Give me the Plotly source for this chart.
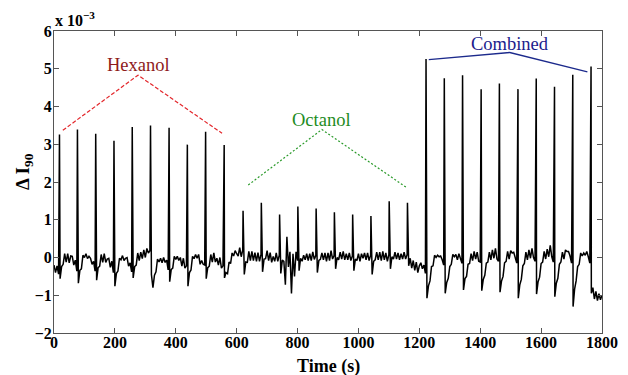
import numpy as np
import plotly.graph_objects as go

# ---- data (values in units of 1e-3) ----
grid_step = 5  # baseline samples every 5 s

hexanol_baseline = [  # t = 0 .. 595
    -0.20, -0.40, -0.22, -0.44, -0.56, -0.24, -0.18, 0.10, -0.12, 0.10, -0.14, 0.04,
    0.03, -0.20, -0.07, -0.36, -0.68, -0.34, -0.30, 0.06, 0.00, 0.10, -0.03, 0.03,
    -0.02, -0.18, -0.10, -0.36, -0.60, -0.27, -0.23, 0.08, -0.13, 0.10, -0.13, -0.04,
    -0.02, -0.26, -0.10, -0.40, -0.76, -0.42, -0.36, -0.02, -0.06, 0.05, -0.08, -0.02,
    0.00, -0.23, -0.14, -0.38, -0.54, -0.24, -0.20, 0.12, -0.08, 0.14, -0.03, 0.20,
    0.00, 0.24, 0.12, 0.18, -0.45, -0.80, -0.47, -0.38, -0.04, -0.12, -0.02, -0.14,
    0.00, -0.13, -0.07, -0.33, -0.64, -0.32, -0.28, 0.03, -0.05, 0.03, -0.08, 0.00,
    -0.23, -0.02, -0.28, -0.22, -0.76, -0.40, -0.33, 0.03, -0.03, 0.08, -0.02, 0.08,
    -0.18, -0.08, -0.18, -0.20, -0.56, -0.27, -0.23, 0.08, -0.12, 0.12, -0.12, -0.02,
    -0.20, 0.00, -0.28, -0.22, -0.54, -0.40, -0.43, -0.12, -0.16, 0.12, 0.04, 0.18,
]
octanol_baseline = [  # t = 600 .. 1195
    0.10, 0.04, 0.26, 0.02, 0.20, -0.45, -0.12, -0.13, 0.16, -0.08, 0.16, -0.08,
    0.13, -0.10, 0.13, -0.10, 0.08, -0.38, -0.04, -0.03, 0.18, -0.08, 0.13, -0.13,
    0.03, -0.10, 0.12, -0.10, 0.06, -0.42, -0.07, -0.10, -0.72, 0.55, -0.25, 0.15,
    -0.95, 0.10, -0.50, 0.15, -0.08, -0.35, -0.02, -0.10, 0.06, -0.06, 0.10, -0.08,
    0.10, -0.08, 0.15, -0.05, 0.06, -0.40, -0.08, -0.05, 0.12, -0.06, 0.12, -0.10,
    0.12, -0.08, 0.18, -0.04, 0.05, -0.30, 0.00, -0.06, 0.14, -0.04, 0.16, -0.06,
    0.10, -0.06, 0.12, -0.08, 0.04, -0.35, -0.04, -0.08, 0.10, -0.10, 0.10, -0.02,
    0.12, -0.06, 0.12, -0.08, 0.06, -0.45, -0.10, -0.06, 0.14, -0.06, 0.14, -0.08,
    0.16, -0.06, 0.12, -0.10, 0.08, -0.30, 0.02, -0.04, 0.14, -0.04, 0.12, -0.06,
    0.10, -0.04, 0.14, -0.04, 0.08, -0.22, -0.02, -0.28, -0.08, -0.34, -0.12, -0.40,
]
combined_baseline = [  # t = 1200 .. 1800
    -0.22, -0.14, -0.30, -0.20, -0.42, -1.08, -0.75, -0.62, -0.24, -0.22, 0.06, 0.00,
    0.06, 0.02, 0.04, -0.06, -0.20, -0.95, -0.66, -0.55, -0.24, -0.18, 0.08, 0.02,
    0.08, -0.06, 0.10, -0.06, -0.15, -0.86, -0.56, -0.50, -0.18, -0.16, 0.10, -0.08,
    0.16, -0.04, 0.14, -0.10, -0.12, -0.88, -0.58, -0.47, -0.15, -0.12, 0.14, -0.06,
    0.20, -0.02, 0.24, -0.04, -0.10, -0.92, -0.62, -0.50, -0.14, -0.10, 0.16, -0.04,
    0.18, 0.12, 0.14, 0.02, -0.15, -1.08, -0.72, -0.58, -0.22, -0.16, 0.14, -0.06,
    0.20, -0.02, 0.24, 0.00, -0.10, -0.97, -0.64, -0.52, -0.16, -0.12, 0.16, -0.04,
    0.22, 0.02, 0.32, 0.02, -0.12, -1.04, -0.68, -0.55, -0.18, -0.12, 0.14, -0.04,
    0.20, 0.16, 0.16, 0.04, -0.15, -1.30, -0.84, -0.62, -0.24, -0.18, 0.12, 0.04,
    0.12, 0.06, 0.16, 0.02, -0.15, -0.95, -0.80, -1.10, -0.90, -1.14, -0.96, -1.12, -1.00,
]

hexanol_spike_times = [18, 77, 137, 197, 257, 317, 378, 438, 498, 559]
hexanol_spike_peaks = [3.26, 3.39, 3.28, 3.09, 3.46, 3.50, 3.44, 2.99, 3.33, 2.98]
octanol_spike_times = [621, 681, 741, 801, 861, 921, 981, 1041, 1101, 1161]
octanol_spike_peaks = [1.24, 1.45, 1.14, 1.35, 1.30, 1.20, 1.14, 1.10, 1.49, 1.45]
combined_spike_times = [1222, 1282, 1342, 1403, 1463, 1524, 1584, 1644, 1704, 1764]
combined_spike_peaks = [5.26, 4.75, 4.83, 4.46, 4.61, 4.46, 4.74, 4.52, 4.84, 5.06]

# annotation bracket lines (time, value)
hexanol_bracket_t = [29, 276, 552]
hexanol_bracket_v = [3.37, 4.83, 3.29]
octanol_bracket_t = [638, 880, 1157]
octanol_bracket_v = [1.92, 3.39, 1.86]
combined_bracket_t = [1231, 1497, 1752]
combined_bracket_v = [5.24, 5.43, 4.92]

x_ticks = [0, 200, 400, 600, 800, 1000, 1200, 1400, 1600, 1800]
y_ticks = [-2, -1, 0, 1, 2, 3, 4, 5, 6]
y_tick_text = ["−2", "−1", "0", "1", "2", "3", "4", "5", "6"]

# ---- assemble trace ----
baseline = hexanol_baseline + octanol_baseline + combined_baseline
t_base = np.arange(len(baseline)) * grid_step
spike_t = hexanol_spike_times + octanol_spike_times + combined_spike_times
spike_v = hexanol_spike_peaks + octanol_spike_peaks + combined_spike_peaks
t_all = np.concatenate([t_base, np.array(spike_t, dtype=float)])
v_all = np.concatenate([np.array(baseline), np.array(spike_v)])
order = np.argsort(t_all, kind="stable")
t_all, v_all = t_all[order], v_all[order]

serif = "Liberation Serif, Times New Roman, serif"

fig = go.Figure()
fig.add_trace(go.Scatter(x=t_all, y=v_all, mode="lines",
                         line=dict(color="black", width=1.5), hoverinfo="skip"))
fig.add_trace(go.Scatter(x=hexanol_bracket_t, y=hexanol_bracket_v, mode="lines",
                         line=dict(color="#E3262B", width=1.2, dash="4px,2px")))
fig.add_trace(go.Scatter(x=octanol_bracket_t, y=octanol_bracket_v, mode="lines",
                         line=dict(color="#2A9A2A", width=1.2, dash="2px,2px")))
fig.add_trace(go.Scatter(x=combined_bracket_t, y=combined_bracket_v, mode="lines",
                         line=dict(color="#1C2A8C", width=1.3)))

fig.add_annotation(x=hexanol_bracket_t[1], y=hexanol_bracket_v[1], text="Hexanol",
                   showarrow=False, yanchor="bottom", yshift=-2,
                   font=dict(family=serif, size=18.5, color="#8E1B1B"))
fig.add_annotation(x=octanol_bracket_t[1], y=octanol_bracket_v[1], text="Octanol",
                   showarrow=False, yanchor="bottom", yshift=-2,
                   font=dict(family=serif, size=18.5, color="#1E8C1E"))
fig.add_annotation(x=combined_bracket_t[1], y=combined_bracket_v[1], text="Combined",
                   showarrow=False, yanchor="bottom", yshift=-3,
                   font=dict(family=serif, size=18.5, color="#1C1C8C"))

fig.add_annotation(xref="paper", yref="paper", x=0, y=1, xanchor="left", yanchor="bottom",
                   xshift=-1, yshift=0, showarrow=False,
                   text="<b>x 10<sup>−3</sup></b>",
                   font=dict(family=serif, size=16, color="black"))
fig.add_annotation(xref="paper", yref="paper", x=0.5, y=0, xanchor="center", yanchor="top",
                   yshift=-21, showarrow=False, text="<b>Time (s)</b>",
                   font=dict(family=serif, size=18, color="black"))
fig.add_annotation(xref="paper", yref="paper", x=0, y=0.5, xanchor="right", yanchor="middle",
                   xshift=-16, yshift=10, showarrow=False, textangle=-90,
                   text="<b>Δ I<sub>90</sub></b>",
                   font=dict(family=serif, size=19, color="black"))

axis_common = dict(showgrid=False, zeroline=False, showline=True, linecolor="#555555",
                   linewidth=1, mirror="allticks", ticks="inside", ticklen=5,
                   tickcolor="#555555",
                   tickfont=dict(family=serif, size=16, color="black"))
fig.update_xaxes(range=[0, 1800], tickvals=x_ticks, ticklabelstandoff=-5,
                 ticktext=["<b>%d</b>" % v for v in x_ticks], **axis_common)
fig.update_yaxes(range=[-2, 6], tickvals=y_ticks, ticklabelstandoff=-2,
                 ticktext=["<b>%s</b>" % s for s in y_tick_text], **axis_common)

# page body has an 8px margin, so the figure is 8px smaller on each side
fig.update_layout(width=620, height=367, showlegend=False,
                  margin=dict(l=46, r=26, t=23, b=42, autoexpand=False),
                  plot_bgcolor="white", paper_bgcolor="white")

fig.write_html("out.html")
